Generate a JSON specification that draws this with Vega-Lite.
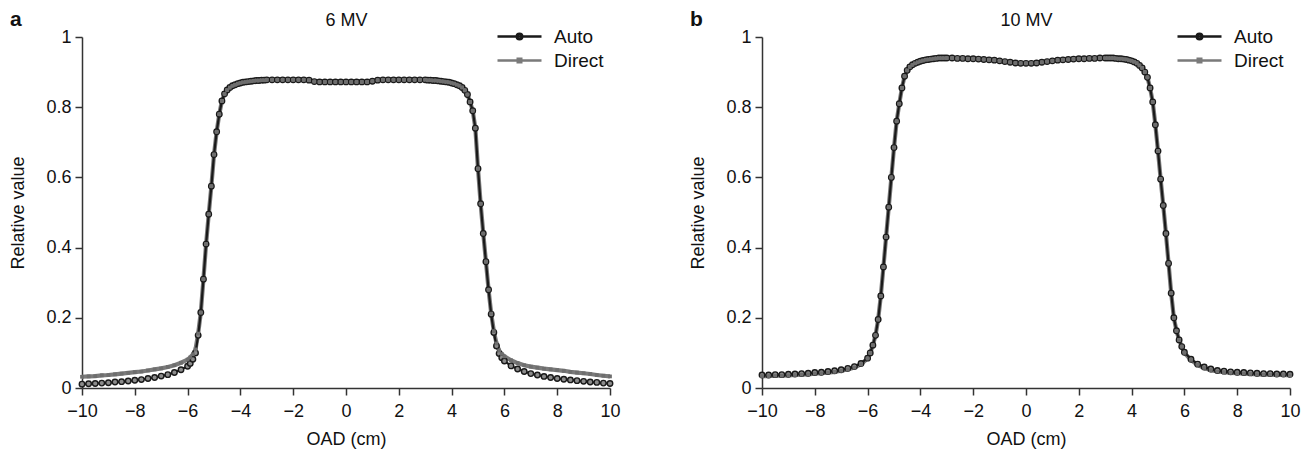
{
  "$schema": "https://vega.github.io/schema/vega-lite/v6.json",
  "padding": {"left": 9, "top": 9, "right": 5, "bottom": 5},
  "background": "white",
  "datasets": {
    "mv6": [
      {"x": -10, "Auto": 0.011, "Direct": 0.032}, {"x": -9.75, "Auto": 0.012, "Direct": 0.033}, {"x": -9.5, "Auto": 0.013, "Direct": 0.034}, {"x": -9.25, "Auto": 0.014, "Direct": 0.036},
      {"x": -9, "Auto": 0.015, "Direct": 0.037}, {"x": -8.75, "Auto": 0.017, "Direct": 0.039}, {"x": -8.5, "Auto": 0.018, "Direct": 0.041}, {"x": -8.25, "Auto": 0.020, "Direct": 0.043},
      {"x": -8, "Auto": 0.022, "Direct": 0.045}, {"x": -7.75, "Auto": 0.024, "Direct": 0.047}, {"x": -7.5, "Auto": 0.027, "Direct": 0.050}, {"x": -7.25, "Auto": 0.030, "Direct": 0.053},
      {"x": -7, "Auto": 0.034, "Direct": 0.056}, {"x": -6.75, "Auto": 0.038, "Direct": 0.060}, {"x": -6.5, "Auto": 0.044, "Direct": 0.065}, {"x": -6.25, "Auto": 0.052, "Direct": 0.072},
      {"x": -6, "Auto": 0.062, "Direct": 0.081}, {"x": -5.9, "Auto": 0.070, "Direct": 0.087}, {"x": -5.8, "Auto": 0.082, "Direct": 0.096}, {"x": -5.7, "Auto": 0.100, "Direct": 0.110},
      {"x": -5.6, "Auto": 0.150, "Direct": 0.155}, {"x": -5.5, "Auto": 0.215, "Direct": 0.215}, {"x": -5.4, "Auto": 0.310, "Direct": 0.310}, {"x": -5.3, "Auto": 0.410, "Direct": 0.410},
      {"x": -5.2, "Auto": 0.495, "Direct": 0.495}, {"x": -5.1, "Auto": 0.575, "Direct": 0.575}, {"x": -5, "Auto": 0.665, "Direct": 0.665}, {"x": -4.9, "Auto": 0.730, "Direct": 0.730},
      {"x": -4.8, "Auto": 0.780, "Direct": 0.780}, {"x": -4.7, "Auto": 0.818, "Direct": 0.818}, {"x": -4.6, "Auto": 0.838, "Direct": 0.838}, {"x": -4.5, "Auto": 0.849, "Direct": 0.849},
      {"x": -4.4, "Auto": 0.856, "Direct": 0.856}, {"x": -4.3, "Auto": 0.861, "Direct": 0.861}, {"x": -4.2, "Auto": 0.864, "Direct": 0.864}, {"x": -4.1, "Auto": 0.867, "Direct": 0.867},
      {"x": -4, "Auto": 0.869, "Direct": 0.869}, {"x": -3.9, "Auto": 0.871, "Direct": 0.871}, {"x": -3.8, "Auto": 0.872, "Direct": 0.872}, {"x": -3.7, "Auto": 0.873, "Direct": 0.873},
      {"x": -3.6, "Auto": 0.874, "Direct": 0.874}, {"x": -3.5, "Auto": 0.875, "Direct": 0.875}, {"x": -3.4, "Auto": 0.876, "Direct": 0.876}, {"x": -3.3, "Auto": 0.876, "Direct": 0.876},
      {"x": -3.2, "Auto": 0.877, "Direct": 0.877}, {"x": -3.1, "Auto": 0.877, "Direct": 0.877}, {"x": -3, "Auto": 0.878, "Direct": 0.878},
      {"x": -2.8, "Auto": 0.878, "Direct": 0.878}, {"x": -2.6, "Auto": 0.878, "Direct": 0.878}, {"x": -2.4, "Auto": 0.878, "Direct": 0.878}, {"x": -2.2, "Auto": 0.878, "Direct": 0.878},
      {"x": -2, "Auto": 0.878, "Direct": 0.878}, {"x": -1.8, "Auto": 0.878, "Direct": 0.878}, {"x": -1.6, "Auto": 0.878, "Direct": 0.878}, {"x": -1.4, "Auto": 0.877, "Direct": 0.877},
      {"x": -1.2, "Auto": 0.873, "Direct": 0.873}, {"x": -1, "Auto": 0.872, "Direct": 0.872}, {"x": -0.8, "Auto": 0.872, "Direct": 0.872}, {"x": -0.6, "Auto": 0.872, "Direct": 0.872},
      {"x": -0.4, "Auto": 0.872, "Direct": 0.872}, {"x": -0.2, "Auto": 0.872, "Direct": 0.872}, {"x": 0, "Auto": 0.872, "Direct": 0.872}, {"x": 0.2, "Auto": 0.872, "Direct": 0.872},
      {"x": 0.4, "Auto": 0.872, "Direct": 0.872}, {"x": 0.6, "Auto": 0.872, "Direct": 0.872}, {"x": 0.8, "Auto": 0.872, "Direct": 0.872}, {"x": 1, "Auto": 0.874, "Direct": 0.874},
      {"x": 1.2, "Auto": 0.877, "Direct": 0.877}, {"x": 1.4, "Auto": 0.878, "Direct": 0.878}, {"x": 1.6, "Auto": 0.878, "Direct": 0.878}, {"x": 1.8, "Auto": 0.878, "Direct": 0.878},
      {"x": 2, "Auto": 0.878, "Direct": 0.878}, {"x": 2.2, "Auto": 0.878, "Direct": 0.878}, {"x": 2.4, "Auto": 0.878, "Direct": 0.878}, {"x": 2.6, "Auto": 0.878, "Direct": 0.878},
      {"x": 2.8, "Auto": 0.878, "Direct": 0.878}, {"x": 3, "Auto": 0.878, "Direct": 0.878}, {"x": 3.1, "Auto": 0.877, "Direct": 0.877}, {"x": 3.2, "Auto": 0.877, "Direct": 0.877},
      {"x": 3.3, "Auto": 0.876, "Direct": 0.876}, {"x": 3.4, "Auto": 0.876, "Direct": 0.876}, {"x": 3.5, "Auto": 0.875, "Direct": 0.875}, {"x": 3.6, "Auto": 0.874, "Direct": 0.874},
      {"x": 3.7, "Auto": 0.873, "Direct": 0.873}, {"x": 3.8, "Auto": 0.872, "Direct": 0.872}, {"x": 3.9, "Auto": 0.871, "Direct": 0.871}, {"x": 4, "Auto": 0.869, "Direct": 0.869},
      {"x": 4.1, "Auto": 0.867, "Direct": 0.867}, {"x": 4.2, "Auto": 0.864, "Direct": 0.864}, {"x": 4.3, "Auto": 0.861, "Direct": 0.861},
      {"x": 4.4, "Auto": 0.856, "Direct": 0.856}, {"x": 4.5, "Auto": 0.848, "Direct": 0.848}, {"x": 4.6, "Auto": 0.836, "Direct": 0.836}, {"x": 4.7, "Auto": 0.815, "Direct": 0.815},
      {"x": 4.8, "Auto": 0.790, "Direct": 0.790}, {"x": 4.9, "Auto": 0.740, "Direct": 0.740}, {"x": 5, "Auto": 0.625, "Direct": 0.625}, {"x": 5.1, "Auto": 0.525, "Direct": 0.525},
      {"x": 5.2, "Auto": 0.440, "Direct": 0.440}, {"x": 5.3, "Auto": 0.360, "Direct": 0.360}, {"x": 5.4, "Auto": 0.280, "Direct": 0.280}, {"x": 5.5, "Auto": 0.210, "Direct": 0.212},
      {"x": 5.6, "Auto": 0.158, "Direct": 0.162}, {"x": 5.7, "Auto": 0.120, "Direct": 0.127}, {"x": 5.8, "Auto": 0.098, "Direct": 0.107}, {"x": 5.9, "Auto": 0.086, "Direct": 0.097},
      {"x": 6, "Auto": 0.077, "Direct": 0.090}, {"x": 6.25, "Auto": 0.063, "Direct": 0.079}, {"x": 6.5, "Auto": 0.054, "Direct": 0.071}, {"x": 6.75, "Auto": 0.047, "Direct": 0.065},
      {"x": 7, "Auto": 0.041, "Direct": 0.061}, {"x": 7.25, "Auto": 0.037, "Direct": 0.058}, {"x": 7.5, "Auto": 0.033, "Direct": 0.055}, {"x": 7.75, "Auto": 0.030, "Direct": 0.053},
      {"x": 8, "Auto": 0.027, "Direct": 0.051}, {"x": 8.25, "Auto": 0.025, "Direct": 0.049}, {"x": 8.5, "Auto": 0.023, "Direct": 0.046}, {"x": 8.75, "Auto": 0.021, "Direct": 0.044},
      {"x": 9, "Auto": 0.019, "Direct": 0.042}, {"x": 9.25, "Auto": 0.017, "Direct": 0.040}, {"x": 9.5, "Auto": 0.016, "Direct": 0.037}, {"x": 9.75, "Auto": 0.014, "Direct": 0.035},
      {"x": 10, "Auto": 0.013, "Direct": 0.033}
    ],
    "mv10": [
      {"x": -10, "Auto": 0.037, "Direct": 0.034}, {"x": -9.75, "Auto": 0.037, "Direct": 0.034}, {"x": -9.5, "Auto": 0.038, "Direct": 0.035}, {"x": -9.25, "Auto": 0.038, "Direct": 0.035},
      {"x": -9, "Auto": 0.039, "Direct": 0.036}, {"x": -8.75, "Auto": 0.040, "Direct": 0.037}, {"x": -8.5, "Auto": 0.041, "Direct": 0.038}, {"x": -8.25, "Auto": 0.042, "Direct": 0.039},
      {"x": -8, "Auto": 0.044, "Direct": 0.041}, {"x": -7.75, "Auto": 0.045, "Direct": 0.042}, {"x": -7.5, "Auto": 0.047, "Direct": 0.044}, {"x": -7.25, "Auto": 0.049, "Direct": 0.046},
      {"x": -7, "Auto": 0.052, "Direct": 0.049}, {"x": -6.75, "Auto": 0.056, "Direct": 0.053}, {"x": -6.5, "Auto": 0.061, "Direct": 0.058}, {"x": -6.25, "Auto": 0.070, "Direct": 0.068},
      {"x": -6, "Auto": 0.085, "Direct": 0.084}, {"x": -5.9, "Auto": 0.100, "Direct": 0.100}, {"x": -5.8, "Auto": 0.122, "Direct": 0.122}, {"x": -5.7, "Auto": 0.150, "Direct": 0.150},
      {"x": -5.6, "Auto": 0.195, "Direct": 0.195}, {"x": -5.5, "Auto": 0.262, "Direct": 0.262}, {"x": -5.4, "Auto": 0.345, "Direct": 0.345}, {"x": -5.3, "Auto": 0.430, "Direct": 0.430},
      {"x": -5.2, "Auto": 0.515, "Direct": 0.515}, {"x": -5.1, "Auto": 0.600, "Direct": 0.600}, {"x": -5, "Auto": 0.685, "Direct": 0.685}, {"x": -4.9, "Auto": 0.760, "Direct": 0.760},
      {"x": -4.8, "Auto": 0.810, "Direct": 0.810}, {"x": -4.7, "Auto": 0.855, "Direct": 0.855}, {"x": -4.6, "Auto": 0.888, "Direct": 0.888}, {"x": -4.5, "Auto": 0.905, "Direct": 0.905},
      {"x": -4.4, "Auto": 0.915, "Direct": 0.915}, {"x": -4.3, "Auto": 0.921, "Direct": 0.921}, {"x": -4.2, "Auto": 0.925, "Direct": 0.925}, {"x": -4.1, "Auto": 0.928, "Direct": 0.928},
      {"x": -4, "Auto": 0.931, "Direct": 0.931}, {"x": -3.9, "Auto": 0.933, "Direct": 0.933}, {"x": -3.8, "Auto": 0.935, "Direct": 0.935}, {"x": -3.7, "Auto": 0.936, "Direct": 0.936},
      {"x": -3.6, "Auto": 0.937, "Direct": 0.937}, {"x": -3.5, "Auto": 0.938, "Direct": 0.938}, {"x": -3.4, "Auto": 0.939, "Direct": 0.939}, {"x": -3.3, "Auto": 0.940, "Direct": 0.940},
      {"x": -3.2, "Auto": 0.940, "Direct": 0.940}, {"x": -3.1, "Auto": 0.940, "Direct": 0.940}, {"x": -3, "Auto": 0.940, "Direct": 0.940},
      {"x": -2.8, "Auto": 0.940, "Direct": 0.940}, {"x": -2.6, "Auto": 0.939, "Direct": 0.939}, {"x": -2.4, "Auto": 0.939, "Direct": 0.939}, {"x": -2.2, "Auto": 0.938, "Direct": 0.938},
      {"x": -2, "Auto": 0.938, "Direct": 0.938}, {"x": -1.8, "Auto": 0.937, "Direct": 0.937}, {"x": -1.6, "Auto": 0.936, "Direct": 0.936}, {"x": -1.4, "Auto": 0.935, "Direct": 0.935},
      {"x": -1.2, "Auto": 0.934, "Direct": 0.934}, {"x": -1, "Auto": 0.932, "Direct": 0.932}, {"x": -0.8, "Auto": 0.930, "Direct": 0.930}, {"x": -0.6, "Auto": 0.928, "Direct": 0.928},
      {"x": -0.4, "Auto": 0.926, "Direct": 0.926}, {"x": -0.2, "Auto": 0.925, "Direct": 0.925}, {"x": 0, "Auto": 0.925, "Direct": 0.925}, {"x": 0.2, "Auto": 0.925, "Direct": 0.925},
      {"x": 0.4, "Auto": 0.926, "Direct": 0.926}, {"x": 0.6, "Auto": 0.928, "Direct": 0.928}, {"x": 0.8, "Auto": 0.930, "Direct": 0.930}, {"x": 1, "Auto": 0.932, "Direct": 0.932},
      {"x": 1.2, "Auto": 0.934, "Direct": 0.934}, {"x": 1.4, "Auto": 0.935, "Direct": 0.935}, {"x": 1.6, "Auto": 0.936, "Direct": 0.936}, {"x": 1.8, "Auto": 0.937, "Direct": 0.937},
      {"x": 2, "Auto": 0.938, "Direct": 0.938}, {"x": 2.2, "Auto": 0.938, "Direct": 0.938}, {"x": 2.4, "Auto": 0.939, "Direct": 0.939}, {"x": 2.6, "Auto": 0.939, "Direct": 0.939},
      {"x": 2.8, "Auto": 0.940, "Direct": 0.940}, {"x": 3, "Auto": 0.940, "Direct": 0.940}, {"x": 3.1, "Auto": 0.940, "Direct": 0.940}, {"x": 3.2, "Auto": 0.940, "Direct": 0.940},
      {"x": 3.3, "Auto": 0.940, "Direct": 0.940}, {"x": 3.4, "Auto": 0.939, "Direct": 0.939}, {"x": 3.5, "Auto": 0.938, "Direct": 0.938}, {"x": 3.6, "Auto": 0.938, "Direct": 0.938},
      {"x": 3.7, "Auto": 0.937, "Direct": 0.937}, {"x": 3.8, "Auto": 0.936, "Direct": 0.936}, {"x": 3.9, "Auto": 0.934, "Direct": 0.934}, {"x": 4, "Auto": 0.932, "Direct": 0.932},
      {"x": 4.1, "Auto": 0.929, "Direct": 0.929}, {"x": 4.2, "Auto": 0.925, "Direct": 0.925}, {"x": 4.3, "Auto": 0.919, "Direct": 0.919},
      {"x": 4.4, "Auto": 0.912, "Direct": 0.912}, {"x": 4.5, "Auto": 0.900, "Direct": 0.900}, {"x": 4.6, "Auto": 0.885, "Direct": 0.885}, {"x": 4.7, "Auto": 0.855, "Direct": 0.855},
      {"x": 4.8, "Auto": 0.815, "Direct": 0.815}, {"x": 4.9, "Auto": 0.750, "Direct": 0.750}, {"x": 5, "Auto": 0.675, "Direct": 0.675}, {"x": 5.1, "Auto": 0.595, "Direct": 0.595},
      {"x": 5.2, "Auto": 0.520, "Direct": 0.520}, {"x": 5.3, "Auto": 0.440, "Direct": 0.440}, {"x": 5.4, "Auto": 0.355, "Direct": 0.355}, {"x": 5.5, "Auto": 0.270, "Direct": 0.270},
      {"x": 5.6, "Auto": 0.200, "Direct": 0.200}, {"x": 5.7, "Auto": 0.163, "Direct": 0.163}, {"x": 5.8, "Auto": 0.137, "Direct": 0.137}, {"x": 5.9, "Auto": 0.118, "Direct": 0.118},
      {"x": 6, "Auto": 0.102, "Direct": 0.100}, {"x": 6.25, "Auto": 0.082, "Direct": 0.080}, {"x": 6.5, "Auto": 0.068, "Direct": 0.066}, {"x": 6.75, "Auto": 0.060, "Direct": 0.057},
      {"x": 7, "Auto": 0.054, "Direct": 0.051}, {"x": 7.25, "Auto": 0.050, "Direct": 0.047}, {"x": 7.5, "Auto": 0.048, "Direct": 0.045}, {"x": 7.75, "Auto": 0.046, "Direct": 0.043},
      {"x": 8, "Auto": 0.045, "Direct": 0.042}, {"x": 8.25, "Auto": 0.044, "Direct": 0.041}, {"x": 8.5, "Auto": 0.043, "Direct": 0.040}, {"x": 8.75, "Auto": 0.042, "Direct": 0.039},
      {"x": 9, "Auto": 0.041, "Direct": 0.038}, {"x": 9.25, "Auto": 0.041, "Direct": 0.038}, {"x": 9.5, "Auto": 0.040, "Direct": 0.037}, {"x": 9.75, "Auto": 0.040, "Direct": 0.037},
      {"x": 10, "Auto": 0.039, "Direct": 0.036}
    ]
  },
  "hconcat": [
    {
      "width": 528, "height": 351,
      "title": {"text": "a", "anchor": "start", "frame": "bounds", "offset": -13, "dy": 23, "baseline": "alphabetic", "fontSize": 21, "fontWeight": "bold", "font": "Liberation Sans", "color": "#111111"},
      "data": {"name": "mv6"},
      "transform": [{"fold": ["Auto", "Direct"], "as": ["s", "v"]}],
      "resolve": {"axis": {"x": "independent"}},
      "encoding": {
        "x": {"field": "x", "type": "quantitative", "scale": {"domain": [-10, 10], "nice": false, "zero": false},
              "axis": {"values": [-10, -8, -6, -4, -2, 0, 2, 4, 6, 8, 10], "title": "OAD (cm)", "labelFlush": false, "labelOverlap": false, "labelPadding": 7, "titlePadding": 10}},
        "y": {"field": "v", "type": "quantitative", "scale": {"domain": [0, 1], "nice": false},
              "axis": {"values": [0, 0.2, 0.4, 0.6, 0.8, 1], "format": ".1~f", "title": "Relative value", "titlePadding": 18, "labelPadding": 4}}
      },
      "layer": [
        {
          "transform": [{"filter": "datum.s === 'Direct'"}],
          "mark": {"type": "line", "strokeWidth": 4.2},
          "encoding": {
            "color": {"field": "s", "type": "nominal", "scale": {"domain": ["Auto", "Direct"], "range": ["#1a1a1a", "#7a7a7a"]},
              "legend": {"orient": "none", "legendX": 428, "legendY": -10, "title": null, "padding": 0, "labelFont": "Liberation Sans", "labelFontSize": 19, "labelColor": "#111111", "labelOffset": 25, "rowPadding": 4, "symbolSize": 100, "symbolStrokeWidth": 2.5,
                "encode": {"symbols": {"update": {
                  "shape": {"signal": "datum.value === 'Auto' ? 'M-4.4,0H4.4M0.55,0A0.55,0.55,0,1,1,-0.55,0A0.55,0.55,0,1,1,0.55,0Z' : 'M-4.4,0H4.4M-0.35,-0.35H0.35V0.35H-0.35Z'"},
                  "fill": {"signal": "datum.value === 'Auto' ? '#b0b0b0' : '#7a7a7a'"}
                }}}}}
          }
        },
        {
          "transform": [{"filter": "datum.s === 'Auto'"}],
          "mark": {"type": "line", "strokeWidth": 2.2},
          "encoding": {
            "x": {"field": "x", "type": "quantitative", "scale": {"domain": [-10, 10], "nice": false, "zero": false}, "axis": null},
            "color": {"field": "s", "type": "nominal", "scale": {"domain": ["Auto", "Direct"], "range": ["#1a1a1a", "#7a7a7a"]}}
          }
        },
        {
          "transform": [{"filter": "datum.s === 'Auto'"}],
          "mark": {"type": "point", "shape": "circle", "filled": true, "fill": "#8c8c8c", "stroke": "#1a1a1a", "strokeWidth": 1.4, "size": 30, "opacity": 1},
          "encoding": {
            "x": {"field": "x", "type": "quantitative", "scale": {"domain": [-10, 10], "nice": false, "zero": false}, "axis": null}
          }
        },
        {
          "transform": [{"filter": "datum.s === 'Direct'"}],
          "mark": {"type": "point", "shape": "square", "filled": true, "color": "#6e6e6e", "size": 14, "opacity": 1},
          "encoding": {
            "x": {"field": "x", "type": "quantitative", "scale": {"domain": [-10, 10], "nice": false, "zero": false},
                  "axis": {"orient": "top", "title": "6 MV", "domain": false, "ticks": false, "labels": false, "grid": false, "titlePadding": 12, "titleBaseline": "alphabetic"}}
          }
        }
      ]
    },
    {
      "width": 528, "height": 351,
      "title": {"text": "b", "anchor": "start", "frame": "bounds", "offset": -13, "dy": 23, "baseline": "alphabetic", "fontSize": 21, "fontWeight": "bold", "font": "Liberation Sans", "color": "#111111"},
      "data": {"name": "mv10"},
      "transform": [{"fold": ["Auto", "Direct"], "as": ["s", "v"]}],
      "resolve": {"axis": {"x": "independent"}},
      "encoding": {
        "x": {"field": "x", "type": "quantitative", "scale": {"domain": [-10, 10], "nice": false, "zero": false},
              "axis": {"values": [-10, -8, -6, -4, -2, 0, 2, 4, 6, 8, 10], "title": "OAD (cm)", "labelFlush": false, "labelOverlap": false, "labelPadding": 7, "titlePadding": 10}},
        "y": {"field": "v", "type": "quantitative", "scale": {"domain": [0, 1], "nice": false},
              "axis": {"values": [0, 0.2, 0.4, 0.6, 0.8, 1], "format": ".1~f", "title": "Relative value", "titlePadding": 18, "labelPadding": 4}}
      },
      "layer": [
        {
          "transform": [{"filter": "datum.s === 'Direct'"}],
          "mark": {"type": "line", "strokeWidth": 4.2},
          "encoding": {
            "color": {"field": "s", "type": "nominal", "scale": {"domain": ["Auto", "Direct"], "range": ["#1a1a1a", "#7a7a7a"]},
              "legend": {"orient": "none", "legendX": 428, "legendY": -10, "title": null, "padding": 0, "labelFont": "Liberation Sans", "labelFontSize": 19, "labelColor": "#111111", "labelOffset": 25, "rowPadding": 4, "symbolSize": 100, "symbolStrokeWidth": 2.5,
                "encode": {"symbols": {"update": {
                  "shape": {"signal": "datum.value === 'Auto' ? 'M-4.4,0H4.4M0.55,0A0.55,0.55,0,1,1,-0.55,0A0.55,0.55,0,1,1,0.55,0Z' : 'M-4.4,0H4.4M-0.35,-0.35H0.35V0.35H-0.35Z'"},
                  "fill": {"signal": "datum.value === 'Auto' ? '#b0b0b0' : '#7a7a7a'"}
                }}}}}
          }
        },
        {
          "transform": [{"filter": "datum.s === 'Auto'"}],
          "mark": {"type": "line", "strokeWidth": 2.2},
          "encoding": {
            "x": {"field": "x", "type": "quantitative", "scale": {"domain": [-10, 10], "nice": false, "zero": false}, "axis": null},
            "color": {"field": "s", "type": "nominal", "scale": {"domain": ["Auto", "Direct"], "range": ["#1a1a1a", "#7a7a7a"]}}
          }
        },
        {
          "transform": [{"filter": "datum.s === 'Auto'"}],
          "mark": {"type": "point", "shape": "circle", "filled": true, "fill": "#8c8c8c", "stroke": "#1a1a1a", "strokeWidth": 1.4, "size": 30, "opacity": 1},
          "encoding": {
            "x": {"field": "x", "type": "quantitative", "scale": {"domain": [-10, 10], "nice": false, "zero": false}, "axis": null}
          }
        },
        {
          "transform": [{"filter": "datum.s === 'Direct'"}],
          "mark": {"type": "point", "shape": "square", "filled": true, "color": "#6e6e6e", "size": 14, "opacity": 1},
          "encoding": {
            "x": {"field": "x", "type": "quantitative", "scale": {"domain": [-10, 10], "nice": false, "zero": false},
                  "axis": {"orient": "top", "title": "10 MV", "domain": false, "ticks": false, "labels": false, "grid": false, "titlePadding": 12, "titleBaseline": "alphabetic"}}
          }
        }
      ]
    }
  ],
  "spacing": 152,
  "bounds": "flush",
  "resolve": {"scale": {"color": "independent"}, "legend": {"color": "independent"}},
  "config": {
    "view": {"stroke": null},
    "font": "Liberation Sans",
    "axis": {
      "grid": false, "domainColor": "#333333", "domainWidth": 1.5, "tickColor": "#333333", "tickWidth": 1.5, "tickSize": 7,
      "labelFont": "Liberation Sans", "labelFontSize": 18, "labelColor": "#111111",
      "titleFont": "Liberation Sans", "titleFontSize": 18, "titleFontWeight": "normal", "titleColor": "#111111"
    }
  }
}
